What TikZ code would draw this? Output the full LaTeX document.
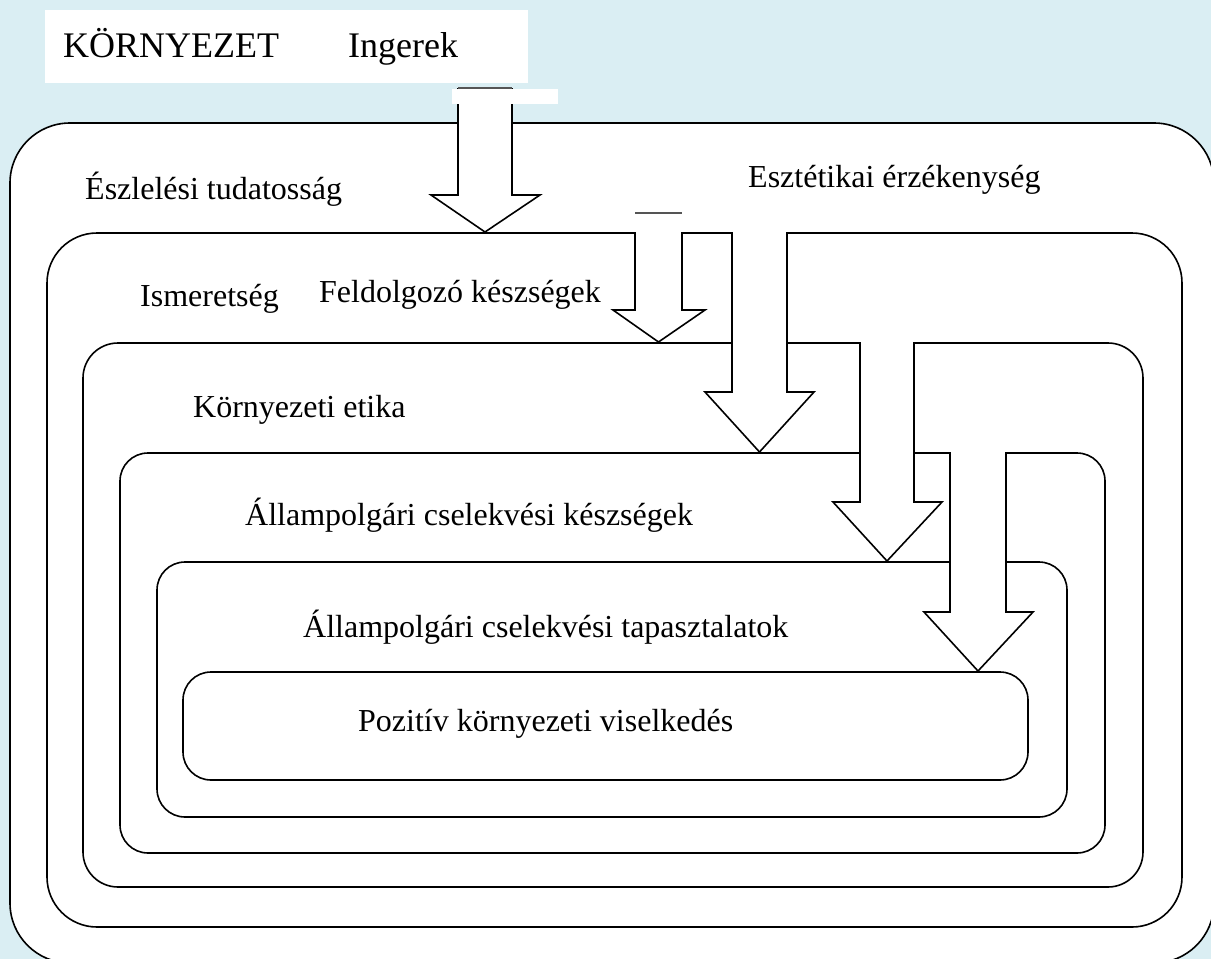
\documentclass[tikz,border=0pt]{standalone}
\usepackage{fontspec}
\setmainfont{Liberation Serif}
\definecolor{bgblue}{HTML}{DAEEF3}
\definecolor{topgray}{HTML}{555555}
\tikzset{
  layer/.style={draw=black,fill=white,line width=1.6pt},
  arrowfill/.style={fill=white},
  arrowline/.style={draw=black,line width=1.6pt,line join=miter},
  lbl/.style={anchor=base west,inner sep=0pt,font=\fontsize{32}{38}\selectfont},
  ttl/.style={anchor=base west,inner sep=0pt,font=\fontsize{36}{42}\selectfont},
  capline/.style={draw=topgray,line width=1.4pt}
}
\begin{document}
\begin{tikzpicture}[x=1pt,y=-1pt]
\useasboundingbox (0,0) rectangle (1211,959);
\fill[bgblue] (0,0) rectangle (1211,959);
\clip (0,0) rectangle (1211,959);
% title box
\fill[white] (45,10) rectangle (528,83);
\node[ttl] (env) at (63,57) {KÖRNYEZET};
\node[ttl] (ing) at (348,57) {Ingerek};
% nested layers
\draw[layer,rounded corners=60pt] (10,123) rectangle (1214,963);
\draw[layer,rounded corners=50pt] (47,233) rectangle (1182,927);
\draw[layer,rounded corners=35pt] (83,343) rectangle (1143,887);
\draw[layer,rounded corners=28pt] (120,453) rectangle (1105,853);
\draw[layer,rounded corners=28pt] (157,562) rectangle (1067,817);
\draw[layer,rounded corners=28pt] (183,672) rectangle (1028,780);
% labels
\node[lbl] (l1) at (85,199) {Észlelési tudatosság};
\node[lbl] (l2) at (748,187) {Esztétikai érzékenység};
\node[lbl] (l3) at (140,306) {Ismeretség};
\node[lbl] (l4) at (319,302) {Feldolgozó készségek};
\node[lbl] (l5) at (193,417) {Környezeti etika};
\node[lbl] (l6) at (245,525) {Állampolgári cselekvési készségek};
\node[lbl] (l7) at (303,637) {Állampolgári cselekvési tapasztalatok};
\node[lbl] (l8) at (358,731) {Pozitív környezeti viselkedés};
% block arrows: #1 left, #2 right, #3 top, #4 head y, #5 head left, #6 head right, #7 tip y
\newcommand{\blockarrow}[7]{%
  \fill[arrowfill] (#1,#3) -- (#1,#4) -- (#5,#4) -- ({(#1+#2)/2},#7) -- (#6,#4) -- (#2,#4) -- (#2,#3) -- cycle;
  \draw[arrowline] (#1,#3) -- (#1,#4) -- (#5,#4) -- ({(#1+#2)/2},#7) -- (#6,#4) -- (#2,#4) -- (#2,#3);
}
\blockarrow{458}{512}{88}{195}{431}{540}{232}
\blockarrow{635}{682}{232}{310}{613}{705}{342}
\fill[white] (635,214) rectangle (682,232);
\blockarrow{732}{787}{232}{392}{705}{814}{452}
\blockarrow{860}{914}{342}{502}{833}{942}{561}
\blockarrow{950}{1006}{452}{612}{924}{1033}{671}
% white caps on arrow tops
\fill[white] (452,89) rectangle (558,104);
\draw[capline] (458,88) -- (512,88);
\draw[capline] (635,213) -- (682,213);
\end{tikzpicture}
\end{document}
